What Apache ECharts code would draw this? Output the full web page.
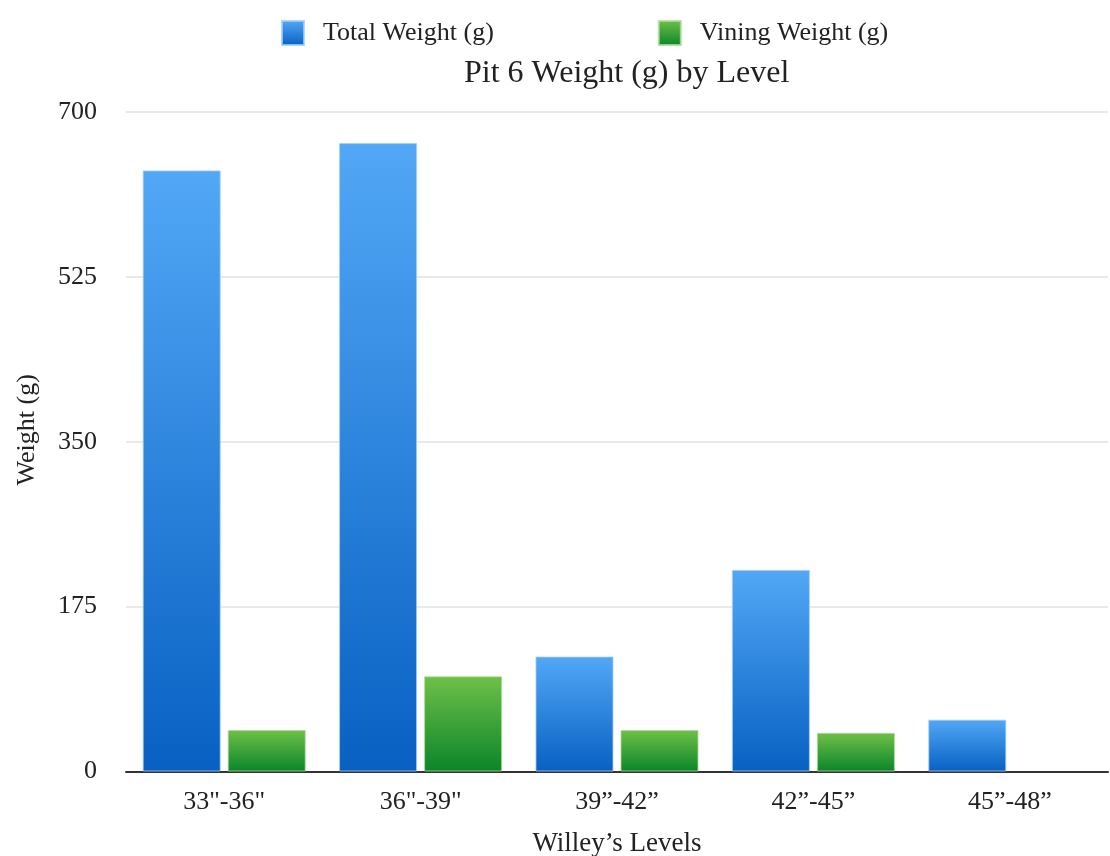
<!DOCTYPE html>
<html>
<head>
<meta charset="utf-8">
<script src="https://cdn.jsdelivr.net/npm/echarts@6/dist/echarts.min.js"></script>
<style>
  html, body { margin: 0; padding: 0; background: #fff; }
  #chart { width: 1110px; height: 856px; }
</style>
</head>
<body>
<div id="chart"></div>
<script>
// Pit 6 weights per Willey's level
const levels = ['33"-36"', '36"-39"', '39”-42”', '42”-45”', '45”-48”'];
const totalWeight = [638, 667, 122, 214, 55];
const viningWeight = [44, 101, 44, 41, null]; // no vining weight recorded for the last level
const yTicks = { min: 0, max: 700, interval: 175 };

const serif = '"Liberation Serif", "Times New Roman", serif';

function vGrad(top, bottom) {
  return new echarts.graphic.LinearGradient(0, 0, 0, 1, [
    { offset: 0, color: top },
    { offset: 1, color: bottom }
  ]);
}

const chart = echarts.init(document.getElementById('chart'), null, { renderer: 'canvas' });

chart.setOption({
  backgroundColor: '#ffffff',
  animation: false,
  title: {
    text: 'Pit 6 Weight (g) by Level',
    left: 459,
    top: 53,
    textStyle: { fontFamily: serif, fontSize: 32, fontWeight: 'normal', color: '#222' }
  },
  legend: {
    left: 276,
    top: 15,
    itemWidth: 22,
    itemHeight: 24,
    itemGap: 164,
    icon: 'rect',
    textStyle: { fontFamily: serif, fontSize: 26, color: '#222', padding: [0, 0, 0, 14] },
    data: ['Total Weight (g)', 'Vining Weight (g)']
  },
  grid: {
    left: 126, right: 2, top: 112, bottom: 84.5,
    containLabel: false,
    outerBoundsMode: 'none'
  },
  xAxis: {
    type: 'category',
    data: levels,
    name: 'Willey’s Levels',
    nameLocation: 'middle',
    nameGap: 59,
    nameTextStyle: { fontFamily: serif, fontSize: 27, color: '#222' },
    axisLine: { lineStyle: { color: '#333', width: 2 } },
    axisTick: { show: false },
    axisLabel: { fontFamily: serif, fontSize: 26, color: '#222', margin: 18 }
  },
  yAxis: {
    type: 'value',
    min: yTicks.min,
    max: yTicks.max,
    interval: yTicks.interval,
    name: 'Weight (g)',
    nameLocation: 'middle',
    nameGap: 86,
    nameTextStyle: { fontFamily: serif, fontSize: 26, color: '#222', padding: [0, 0, 0, 24] },
    axisLine: { show: false },
    axisTick: { show: false },
    axisLabel: { fontFamily: serif, fontSize: 26, color: '#222', margin: 29 },
    splitLine: { lineStyle: { color: '#e9e9e9', width: 2 } }
  },
  series: [
    {
      name: 'Total Weight (g)',
      type: 'bar',
      data: totalWeight,
      barWidth: 78,
      barGap: '9%',
      itemStyle: {
        color: vGrad('#52a8f6', '#0860c2'),
        borderColor: 'rgba(160, 205, 250, 0.8)',
        borderWidth: 1
      }
    },
    {
      name: 'Vining Weight (g)',
      type: 'bar',
      data: viningWeight,
      barWidth: 78,
      itemStyle: {
        color: vGrad('#6fc048', '#0a8529'),
        borderColor: 'rgba(170, 220, 150, 0.8)',
        borderWidth: 1
      }
    }
  ]
});
</script>
</body>
</html>
